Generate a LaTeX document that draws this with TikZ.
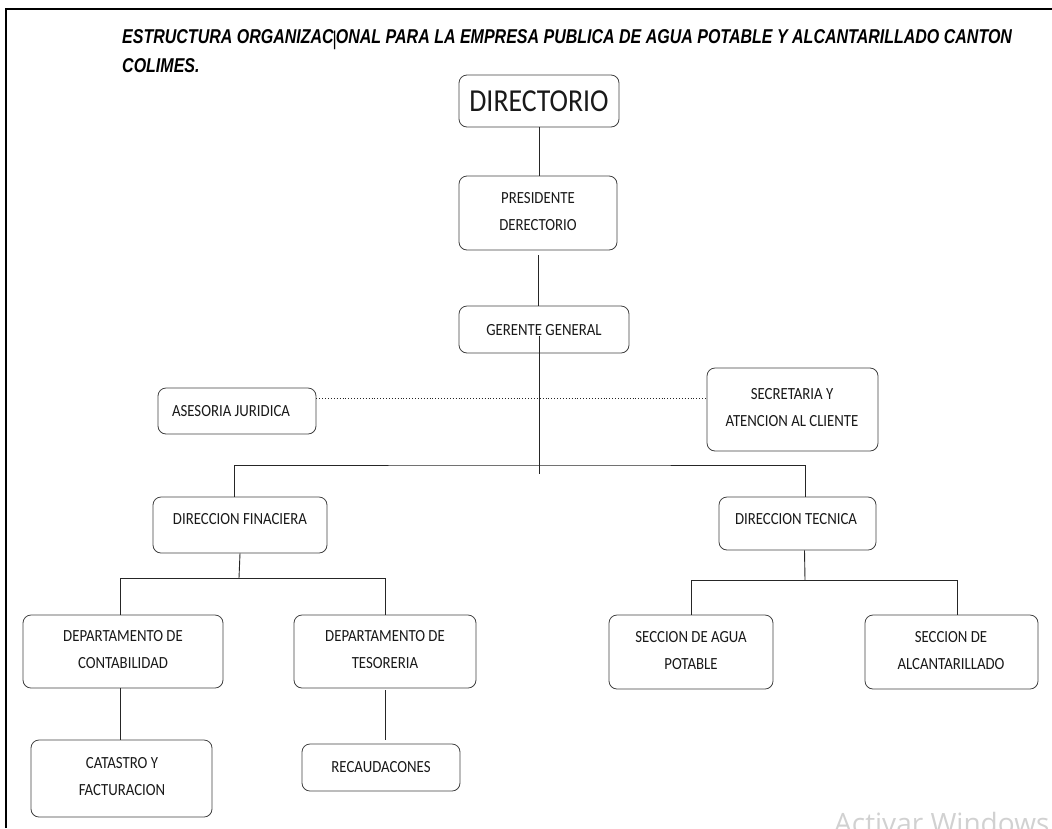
\documentclass[tikz,border=0pt]{standalone}
\usepackage{fontspec}
\setmainfont[FakeStretch=0.87]{Carlito}
\newfontfamily\titlefont[FakeStretch=0.80]{Liberation Sans}
\newfontfamily\wmfont{Open Sans}
\begin{document}
\begin{tikzpicture}[x=1pt,y=-1pt,
  box/.style={draw=black!75, line width=0.8pt, rounded corners=8pt, inner sep=0pt},
  lbl/.style={font=\fontsize{17}{27}\selectfont, align=center, inner sep=0pt, text=black!90},
  conn/.style={draw=black!85, line width=0.9pt},
  ttl/.style={font=\titlefont\bfseries\itshape\fontsize{20}{22}\selectfont, inner sep=0pt, anchor=west}]
\useasboundingbox (0,0) rectangle (1052,828);
% frame
\draw[line width=2pt] (6,828) -- (6,9) -- (1052,9);
% title
\node[ttl] (t1) at (122,40) {ESTRUCTURA ORGANIZAC\kern-1pt\raisebox{-2pt}{\textmd{\textup{|}}}\kern-1pt ONAL PARA LA EMPRESA PUBLICA DE AGUA POTABLE Y ALCANTARILLADO CANTON};
\node[ttl] (t2) at (122,66) {COLIMES.};
% boxes
\node[box, minimum width=160pt, minimum height=52pt] (dir) at (539,101) {};
\node[box, minimum width=158pt, minimum height=74pt] (pres) at (538,213) {};
\node[box, minimum width=170pt, minimum height=47pt] (ger) at (544,329.5) {};
\node[box, minimum width=158pt, minimum height=46pt] (ases) at (237,411) {};
\node[box, minimum width=171pt, minimum height=83pt] (sec) at (792.5,409.5) {};
\node[box, minimum width=174pt, minimum height=56pt] (fin) at (240,525) {};
\node[box, minimum width=157pt, minimum height=53pt] (tec) at (797.5,523.5) {};
\node[box, minimum width=200pt, minimum height=73pt] (cont) at (123,651.5) {};
\node[box, minimum width=182pt, minimum height=73pt] (tes) at (385,651.5) {};
\node[box, minimum width=164pt, minimum height=74pt] (agua) at (691,652) {};
\node[box, minimum width=173pt, minimum height=74pt] (alc) at (951.5,652) {};
\node[box, minimum width=181pt, minimum height=77pt] (cat) at (121.5,778.5) {};
\node[box, minimum width=158pt, minimum height=47pt] (rec) at (381,767.5) {};
% texts
\node[lbl, font=\fontsize{32}{36}\selectfont] (dirT) at (539,101) {DIRECTORIO};
\node[lbl] (presT) at (538,212) {PRESIDENTE\\DERECTORIO};
\node[lbl] (gerT) at (544,330) {GERENTE GENERAL};
\node[lbl] (asesT) at (231,411) {ASESORIA JURIDICA};
\node[lbl] (secT) at (792,408) {SECRETARIA Y\\ATENCION AL CLIENTE};
\node[lbl] (finT) at (240,519) {DIRECCION FINACIERA};
\node[lbl] (tecT) at (796,519) {DIRECCION TECNICA};
\node[lbl] (contT) at (123,650) {DEPARTAMENTO DE\\CONTABILIDAD};
\node[lbl] (tesT) at (385,650) {DEPARTAMENTO DE\\TESORERIA};
\node[lbl] (aguaT) at (691,651) {SECCION DE AGUA\\POTABLE};
\node[lbl] (alcT) at (951,651) {SECCION DE\\ALCANTARILLADO};
\node[lbl] (catT) at (122,777) {CATASTRO Y\\FACTURACION};
\node[lbl] (recT) at (381,767) {RECAUDACONES};
% connectors
\draw[conn] (dir.south) -- (dir.south |- pres.north);
\draw[conn] ([yshift=-5pt]pres.south) -- (pres.south |- ger.north);
\coordinate (gstart) at (539,336);
\coordinate (gend) at (539,474);
\draw[conn] (gstart) -- (gend);
\coordinate (dl) at ([yshift=13pt]ases.east);
\draw[conn, dotted, line width=0.8pt] (dl) -- (dl -| sec.west);
\coordinate (bus) at (539,465);
\draw[conn] ([xshift=-6pt]fin.north) |- (bus) -| ([xshift=8pt]tec.north);
\coordinate (fbus) at (239,578);
\draw[conn] (fin.south) -- (fbus);
\draw[conn] ([xshift=-3pt]cont.north) |- (fbus) -| (tes.north);
\coordinate (tbus) at (805,580);
\draw[conn] ([xshift=7pt]tec.south) -- (tbus);
\draw[conn] (agua.north) |- (tbus) -| ([xshift=6pt]alc.north);
\draw[conn] ([xshift=-3pt]cont.south) -- ([xshift=-3pt]cont.south |- cat.north);
\draw[conn] ([yshift=-2pt]tes.south) -- ([yshift=4pt]tes.south |- rec.north);
% watermark (cut off at the bottom edge, as in the reference)
\node[anchor=north west, inner sep=0pt, text=black!18, font=\wmfont\fontsize{28}{32}\selectfont] (wm) at (834,812) {Activar Windows};
\end{tikzpicture}
\end{document}
